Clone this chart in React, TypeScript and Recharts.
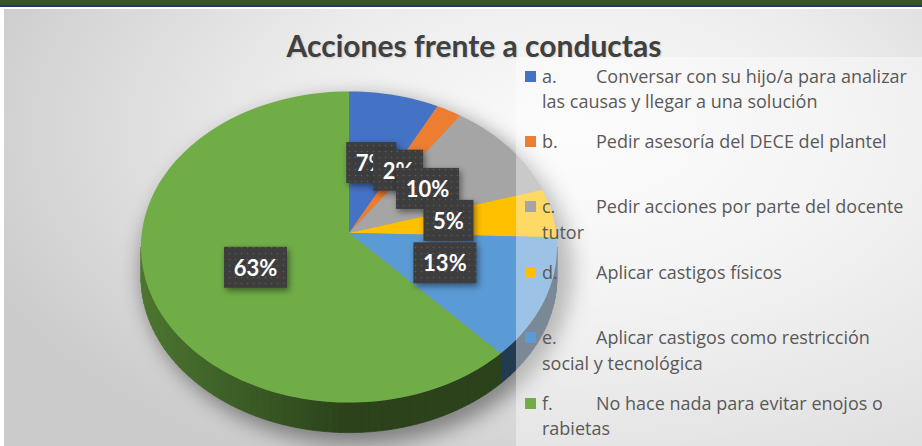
import React from "react";
import { PieChart, Pie } from "recharts";

const letters = ["a.", "b.", "c.", "d.", "e.", "f."];
// legend text, already split into the lines it shows on
const legendLines = [
  ["Conversar con su hijo/a para analizar", "las causas y llegar a una solución"],
  ["Pedir asesoría del DECE del plantel"],
  ["Pedir acciones por parte del docente", "tutor"],
  ["Aplicar castigos físicos"],
  ["Aplicar castigos como restricción", "social y tecnológica"],
  ["No hace nada para evitar enojos o", "rabietas"],
];
const categories = legendLines.map((l) => l.join(" "));
const percents = [7, 2, 10, 5, 13, 63];
const colors = ["#4472C4", "#ED7D31", "#A5A5A5", "#FFC000", "#5B9BD5", "#70AD47"];

const data = categories.map((name, i) => ({ name, value: percents[i] }));

const W = 922;
const H = 446;
const SQUASH = 0.748; // vertical radius / horizontal radius
const PERSP = 14; // ellipse centre sits a bit below the apex
const DEPTH = 30; // thickness of the 3D rim
const FONT = "Lato, 'Open Sans', sans-serif";
const LEGEND_FONT = "'Open Sans', sans-serif";

const rad = (d: number) => (d * Math.PI) / 180;

function darken(hex: string, f: number) {
  const n = parseInt(hex.slice(1), 16);
  const r = Math.round(((n >> 16) & 255) * f);
  const g = Math.round(((n >> 8) & 255) * f);
  const b = Math.round((n & 255) * f);
  return `rgb(${r},${g},${b})`;
}

// draws the slice itself (top face + visible rim) as an ellipse
const renderSlice = (props: any) => {
  const { cx, cy, outerRadius, startAngle, endAngle, index } = props;
  const rx = outerRadius;
  const ry = outerRadius * SQUASH;
  const ecy = cy + PERSP;
  const pt = (a: number) => [cx + rx * Math.cos(rad(a)), ecy - ry * Math.sin(rad(a))];
  const hiA = Math.max(startAngle, endAngle);
  const loA = Math.min(startAngle, endAngle);
  const base = colors[index];

  let top = `M${cx},${cy}`;
  const n = Math.max(2, Math.ceil((hiA - loA) / 2));
  for (let i = 0; i <= n; i++) {
    const [x, y] = pt(hiA - ((hiA - loA) * i) / n);
    top += ` L${x.toFixed(2)},${y.toFixed(2)}`;
  }
  top += " Z";

  const rim: React.ReactNode[] = [];
  const hi = Math.min(hiA, 0);
  const lo = Math.max(loA, -180);
  if (hi > lo) {
    const m = Math.max(1, Math.ceil((hi - lo) / 2));
    for (let i = 0; i < m; i++) {
      const b1 = hi - ((hi - lo) * i) / m;
      const b2 = hi - ((hi - lo) * (i + 1)) / m;
      const [x1, y1] = pt(b1);
      const [x2, y2] = pt(b2);
      const mid = (b1 + b2) / 2;
      const shade = 0.38 + 0.3 * Math.max(0, -Math.cos(rad(mid)));
      const c = darken(base, shade);
      rim.push(
        <path
          key={i}
          d={`M${x1},${y1} L${x2},${y2} L${x2},${y2 + DEPTH} L${x1},${y1 + DEPTH} Z`}
          fill={c}
          stroke={c}
          strokeWidth={0.8}
        />
      );
    }
  }

  return (
    <g key={`slice-${index}`}>
      {index === 0 && (
        <ellipse
          cx={cx + 8}
          cy={ecy + DEPTH / 2 + 9}
          rx={rx + 8}
          ry={ry + DEPTH / 2 + 3}
          fill="rgba(0,0,0,0.4)"
          style={{ filter: "blur(10px)" }}
        />
      )}
      {rim}
      <path d={top} fill={base} />
    </g>
  );
};

const renderBox = (props: any) => {
  const { cx, cy, outerRadius, midAngle, index } = props;
  const k = 0.49;
  const x = cx + outerRadius * k * Math.cos(rad(midAngle));
  const y = cy - outerRadius * SQUASH * k * Math.sin(rad(midAngle)) + 4;
  const txt = `${percents[index]}%`;
  const w = 13 * txt.length + 24;
  const h = 41;
  const pid = `dots-${index}`;
  return (
    <g key={`box-${index}`}>
      <defs>
        <pattern id={pid} width={6} height={6} patternUnits="userSpaceOnUse">
          <rect width={6} height={6} fill="#3d3d3d" />
          <circle cx={1.5} cy={1.5} r={0.8} fill="#5a5a5a" />
        </pattern>
      </defs>
      <rect
        x={x - w / 2}
        y={y - h / 2}
        width={w}
        height={h}
        fill={`url(#${pid})`}
        style={{ filter: "drop-shadow(2px 3px 3px rgba(0,0,0,0.45))" }}
      />
      <text
        x={x}
        y={y}
        textAnchor="middle"
        dominantBaseline="central"
        fill="#ffffff"
        fontFamily={FONT}
        fontWeight={700}
        fontSize={22}
      >
        {txt}
      </text>
    </g>
  );
};

export default function App() {
  return (
    <div
      style={{
        position: "absolute",
        left: 0,
        top: 0,
        width: W,
        height: H,
        overflow: "hidden",
        background: "#ffffff",
        fontFamily: FONT,
      }}
    >
      <div style={{ position: "absolute", left: 0, top: 0, width: W, height: 5, background: "#375623" }} />
      <div style={{ position: "absolute", left: 0, top: 5, width: W, height: 2, background: "#1f3864" }} />
      <div
        style={{
          position: "absolute",
          left: 4,
          top: 9,
          right: 0,
          bottom: 0,
          background:
            "radial-gradient(ellipse 70% 85% at 62% 28%, #fbfbfb 0%, #ececec 45%, #cbcbcb 100%)",
        }}
      />
      <div
        style={{
          position: "absolute",
          left: 0,
          top: 31,
          width: 948,
          textAlign: "center",
          fontSize: 30,
          fontWeight: 700,
          color: "#404040",
          lineHeight: "28px",
          textShadow: "1px 1px 2px rgba(0,0,0,0.15)",
        }}
      >
        Acciones frente a conductas
      </div>

      <div style={{ position: "absolute", left: 0, top: 0 }}>
        <PieChart width={W} height={H} margin={{ top: 0, right: 0, bottom: 0, left: 0 }}>
          <Pie
            data={data}
            dataKey="value"
            nameKey="name"
            cx={349}
            cy={233}
            outerRadius={208}
            startAngle={90}
            endAngle={-270}
            fill="transparent"
            stroke="none"
            labelLine={false}
            label={renderSlice}
            isAnimationActive={false}
          />
          <Pie
            data={data}
            dataKey="value"
            nameKey="name"
            cx={349}
            cy={233}
            outerRadius={208}
            startAngle={90}
            endAngle={-270}
            fill="transparent"
            stroke="none"
            labelLine={false}
            label={renderBox}
            isAnimationActive={false}
          />
        </PieChart>
      </div>

      <div
        style={{
          position: "absolute",
          left: 516,
          top: 57,
          width: W - 516,
          height: H - 57,
          background: "rgba(255,255,255,0.4)",
          fontFamily: LEGEND_FONT,
          fontSize: 18,
          color: "#595959",
        }}
      >
        {legendLines.map((lines, i) => (
          <div key={i} style={{ position: "absolute", left: 0, top: 6.5 + i * 65.4, width: 406 }}>
            <div
              style={{
                position: "absolute",
                left: 9,
                top: 7,
                width: 11,
                height: 11,
                background: colors[i],
              }}
            />
            <span style={{ position: "absolute", left: 26, top: 0, lineHeight: "25px", whiteSpace: "nowrap" }}>
              {letters[i]}
            </span>
            {lines.map((t, j) => (
              <span
                key={j}
                style={{
                  position: "absolute",
                  left: j === 0 ? 80 : 26,
                  top: j * 25.5,
                  lineHeight: "25px",
                  whiteSpace: "nowrap",
                }}
              >
                {t}
              </span>
            ))}
          </div>
        ))}
      </div>
    </div>
  );
}
